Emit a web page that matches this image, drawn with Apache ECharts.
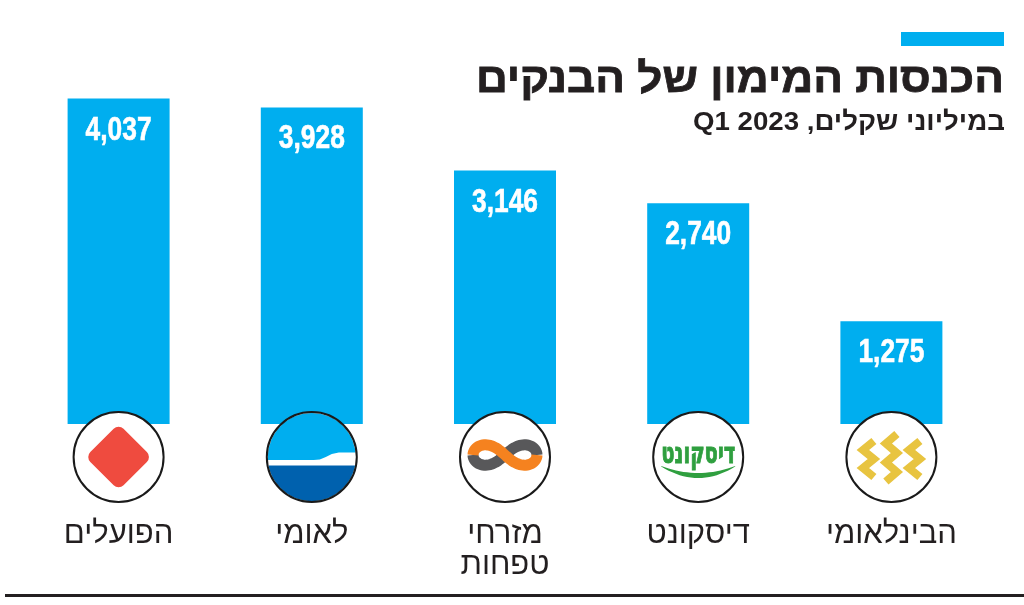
<!DOCTYPE html>
<html><head><meta charset="utf-8">
<script src="https://cdn.jsdelivr.net/npm/echarts@6/dist/echarts.min.js"></script>
<style>html,body{margin:0;padding:0;background:#fff}#c{width:1024px;height:605px}</style>
</head><body><div id="c"></div>
<script>
const categories = ['הפועלים', 'לאומי', 'מזרחי\nטפחות', 'דיסקונט', 'הבינלאומי'];
const values = [4037, 3928, 3146, 2740, 1275];
const logos = ['hapoalim', 'leumi', 'mizrahi', 'discount', 'beinleumi'];
const titleText = 'הכנסות המימון של הבנקים';
const subtitleText = 'במיליוני שקלים, Q1 2023';

const BLUE = '#00aeef';
const INK = '#231f20';
const R = 45;

const mctx = document.createElement('canvas').getContext('2d');
function fitScale(text, font, target) {
  mctx.font = font;
  return target / mctx.measureText(text).width;
}

function circlePts(r, a0, a1, n) {
  const pts = [];
  for (let k = 0; k <= n; k++) {
    const a = a0 + (a1 - a0) * k / n;
    pts.push([r * Math.cos(a), r * Math.sin(a)]);
  }
  return pts;
}

const DISC_FONT = 'bold 30px "DejaVu Sans", "Liberation Sans"';
const discScale = fitScale('דיסקונט', DISC_FONT, 74);

function logoChildren(kind) {
  const ch = [];
  ch.push({ type: 'circle', shape: { cx: 0, cy: 0, r: R }, style: { fill: '#fff' } });
  if (kind === 'hapoalim') {
    ch.push({ type: 'rect', x: 0, y: 0, rotation: Math.PI / 4,
      shape: { x: -23.5, y: -23.5, width: 47, height: 47, r: 7 }, style: { fill: '#ef4b3f' } });
  } else if (kind === 'leumi') {
    ch.push({ type: 'circle', shape: { cx: 0, cy: 0, r: R - 1 }, style: { fill: BLUE } });
    const yb = 8;
    const a = Math.asin(yb / (R - 1));
    ch.push({ type: 'polygon', shape: { points: circlePts(R - 1, a, Math.PI - a, 40) }, style: { fill: '#0061ae' } });
    ch.push({ type: 'polygon', shape: { points: [[-45, 3], [2, 3], [8, 2.5], [14, 0], [20, -3], [27, -4.5], [45, -4.5], [45, 8.5], [-45, 8.5]] }, style: { fill: '#fff' } });
  } else if (kind === 'mizrahi') {
    const a = 32;
    const lem = (t0, t1) => {
      const pts = [];
      for (let k = 0; k <= 60; k++) {
        const t = t0 + (t1 - t0) * k / 60;
        const s = Math.sin(t), c = Math.cos(t);
        pts.push([a * c / (1 + s * s), a * s * c / (1 + s * s) * 0.9]);
      }
      return pts;
    };
    ch.push({ type: 'polyline', x: 0, y: -2, shape: { points: lem(Math.PI, 2 * Math.PI) }, style: { stroke: '#58585a', lineWidth: 11, fill: null, lineCap: 'butt' } });
    ch.push({ type: 'polyline', x: 0, y: -2, shape: { points: lem(0, Math.PI) }, style: { stroke: '#f5821f', lineWidth: 11, fill: null, lineCap: 'butt' } });
  } else if (kind === 'discount') {
    ch.push({ type: 'text', x: 0, y: -2, scaleX: discScale, style: { text: 'דיסקונט', x: 0, y: 0, align: 'center', verticalAlign: 'middle',
      fill: '#2f9f3f', font: DISC_FONT, stroke: '#2f9f3f', lineWidth: 1 } });
    ch.push({ type: 'polygon', shape: { points: (() => {
      const pts = [];
      for (let k = 0; k <= 20; k++) { const u = -1 + k / 10; pts.push([u * 37, 9 + 7 * (1 - u * u)]); }
      for (let k = 20; k >= 0; k--) { const u = -1 + k / 10; pts.push([u * 37, 9.5 + 11.5 * (1 - u * u)]); }
      return pts;
    })() }, style: { fill: '#2f9f3f' } });
  } else if (kind === 'beinleumi') {
    const col = (x, y0, n, step) => {
      const pts = [];
      for (let k = 0; k <= n; k++) pts.push([x + (k % 2 ? -5.5 : 5.5), y0 + k * step]);
      return pts;
    };
    const st = { stroke: '#e8c440', lineWidth: 8, fill: null, lineJoin: 'miter', miterLimit: 4, lineCap: 'butt' };
    ch.push({ type: 'polyline', shape: { points: col(-23, -16, 4, 9) }, style: st });
    ch.push({ type: 'polyline', shape: { points: col(0, -23, 5, 9.5) }, style: st });
    ch.push({ type: 'polyline', shape: { points: col(23, -16, 4, 9) }, style: st });
  }
  ch.push({ type: 'circle', shape: { cx: 0, cy: 0, r: R }, style: { fill: null, stroke: '#1a1a1a', lineWidth: 2 } });
  return ch;
}

const TITLE_FONT = 'bold 42px "Liberation Sans", "DejaVu Sans"';
const SUB_FONT = 'bold 26px "Liberation Sans", "DejaVu Sans"';
const VAL_FONT = 'bold 33px "Liberation Sans", "DejaVu Sans"';
const titleScale = fitScale(titleText, TITLE_FONT, 528);
const subStr = '\u202B' + subtitleText + '\u202C';
const subScale = fitScale(subStr, SUB_FONT, 312);
const valScale = fitScale('4,037', VAL_FONT, 66);

const chart = echarts.init(document.getElementById('c'), null, { renderer: 'canvas' });
chart.setOption({
  animation: false,
  backgroundColor: '#fff',
  grid: { left: 22, right: 36, top: 21, bottom: 181 },
  xAxis: {
    type: 'category', data: categories,
    axisLine: { show: false }, axisTick: { show: false },
    axisLabel: { margin: 95, fontSize: 31, lineHeight: 31, color: INK, fontFamily: '"Liberation Sans", "DejaVu Sans"', verticalAlign: 'top' }
  },
  yAxis: { type: 'value', min: 0, max: 5000, show: false, splitLine: { show: false } },
  graphic: [
    { type: 'rect', shape: { x: 901, y: 32, width: 103, height: 14 }, style: { fill: BLUE } },
    { type: 'text', x: 1004, y: 80, scaleX: titleScale, style: { text: titleText, x: 0, y: 0, align: 'right', verticalAlign: 'middle', fill: INK,
      font: TITLE_FONT, stroke: INK, lineWidth: 0.8 } },
    { type: 'text', x: 1005, y: 123, scaleX: subScale, style: { text: subStr, x: 0, y: 0, align: 'right', verticalAlign: 'middle', fill: INK,
      font: SUB_FONT } },
    { type: 'rect', shape: { x: 5, y: 594, width: 1019, height: 3 }, style: { fill: INK } }
  ],
  series: [
    {
      type: 'bar', data: values, barWidth: 102, itemStyle: { color: BLUE }
    },
    {
      type: 'custom', z: 4,
      data: values.map((v, i) => [i, v]),
      renderItem: (params, api) => {
        const p = api.coord([api.value(0), api.value(1)]);
        return { type: 'text', x: p[0], y: p[1] + 32, scaleX: valScale,
          style: { text: api.value(1).toLocaleString('en-US'), x: 0, y: 0, align: 'center', verticalAlign: 'middle', fill: '#fff', font: VAL_FONT, stroke: '#fff', lineWidth: 0.6 } };
      }
    },
    {
      type: 'custom', z: 5,
      data: logos.map((l, i) => [i, 0]),
      renderItem: (params, api) => {
        const p = api.coord([api.value(0), 0]);
        return { type: 'group', x: p[0], y: p[1] + 33, children: logoChildren(logos[params.dataIndex]) };
      }
    }
  ]
});
</script></body></html>
